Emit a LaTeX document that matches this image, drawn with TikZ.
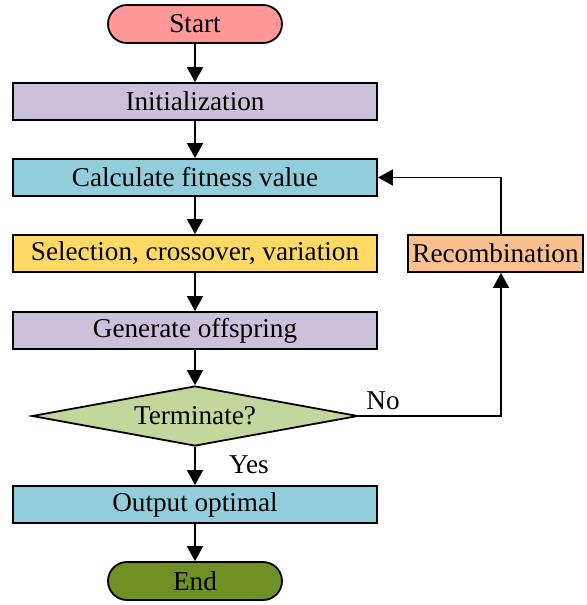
\documentclass[tikz,border=0pt]{standalone}
\usepackage{fontspec}
\setmainfont{Liberation Serif}
\usetikzlibrary{shapes.geometric,arrows.meta}
\definecolor{startpink}{HTML}{FF9999}
\definecolor{lilac}{HTML}{CCC1DA}
\definecolor{skyblue}{HTML}{92CDDC}
\definecolor{sunyellow}{HTML}{FFD966}
\definecolor{peach}{HTML}{FAC090}
\definecolor{sage}{HTML}{C3D69B}
\definecolor{olive}{HTML}{6E9025}
\tikzset{
  box/.style={draw,line width=0.9pt,minimum width=182pt,minimum height=18.5pt,inner sep=0pt},
  term/.style={draw,line width=0.9pt,rounded corners=9.5pt,minimum width=87pt,minimum height=19pt,inner sep=0pt},
  arr/.style={-{Triangle[width=8pt,length=7.5pt]},line width=0.9pt}
}

\begin{document}
\begin{tikzpicture}[x=0.5pt,y=-0.5pt,font=\fontsize{13.6}{16}\selectfont]
\useasboundingbox (0,0) rectangle (587,605);
\node[term,fill=startpink] (start) at (195,24) {Start};
\node[box,fill=lilac] (init) at (195,101.5) {Initialization};
\node[box,fill=skyblue] (calc) at (195,177.5) {Calculate fitness value};
\node[box,fill=sunyellow] (sel) at (195,253.5) {Selection, crossover, variation};
\node[box,fill=lilac] (gen) at (195,330.5) {Generate offspring};
\node[draw,line width=0.9pt,diamond,aspect=5.4,minimum width=163pt,minimum height=30pt,inner sep=0pt,fill=sage] (term) at (195,416) {Terminate?};
\node[box,fill=skyblue] (out) at (195,504.5) {Output optimal};
\node[term,fill=olive] (end) at (195,581) {End};
\node[draw,line width=0.9pt,minimum width=87.5pt,minimum height=18.5pt,inner sep=0pt,fill=peach] (recomb) at (495.5,253.5) {Recombination};
\coordinate (rx) at (501,253.5);
% main flow
\draw[arr] (start) -- (init);
\draw[arr] (init) -- (calc);
\draw[arr] (calc) -- (sel);
\draw[arr] (sel) -- (gen);
\draw[arr] (gen) -- (term);
\draw[arr] (term) -- (out);
\draw[arr] (out) -- (end);
% loop back
\draw[arr] (term.east) -| (rx |- recomb.south);
\draw[arr] (rx |- recomb.north) |- (calc.east);
\node (no) at (383,401) {No};
\node (yes) at (249,465) {Yes};
\end{tikzpicture}
\end{document}
